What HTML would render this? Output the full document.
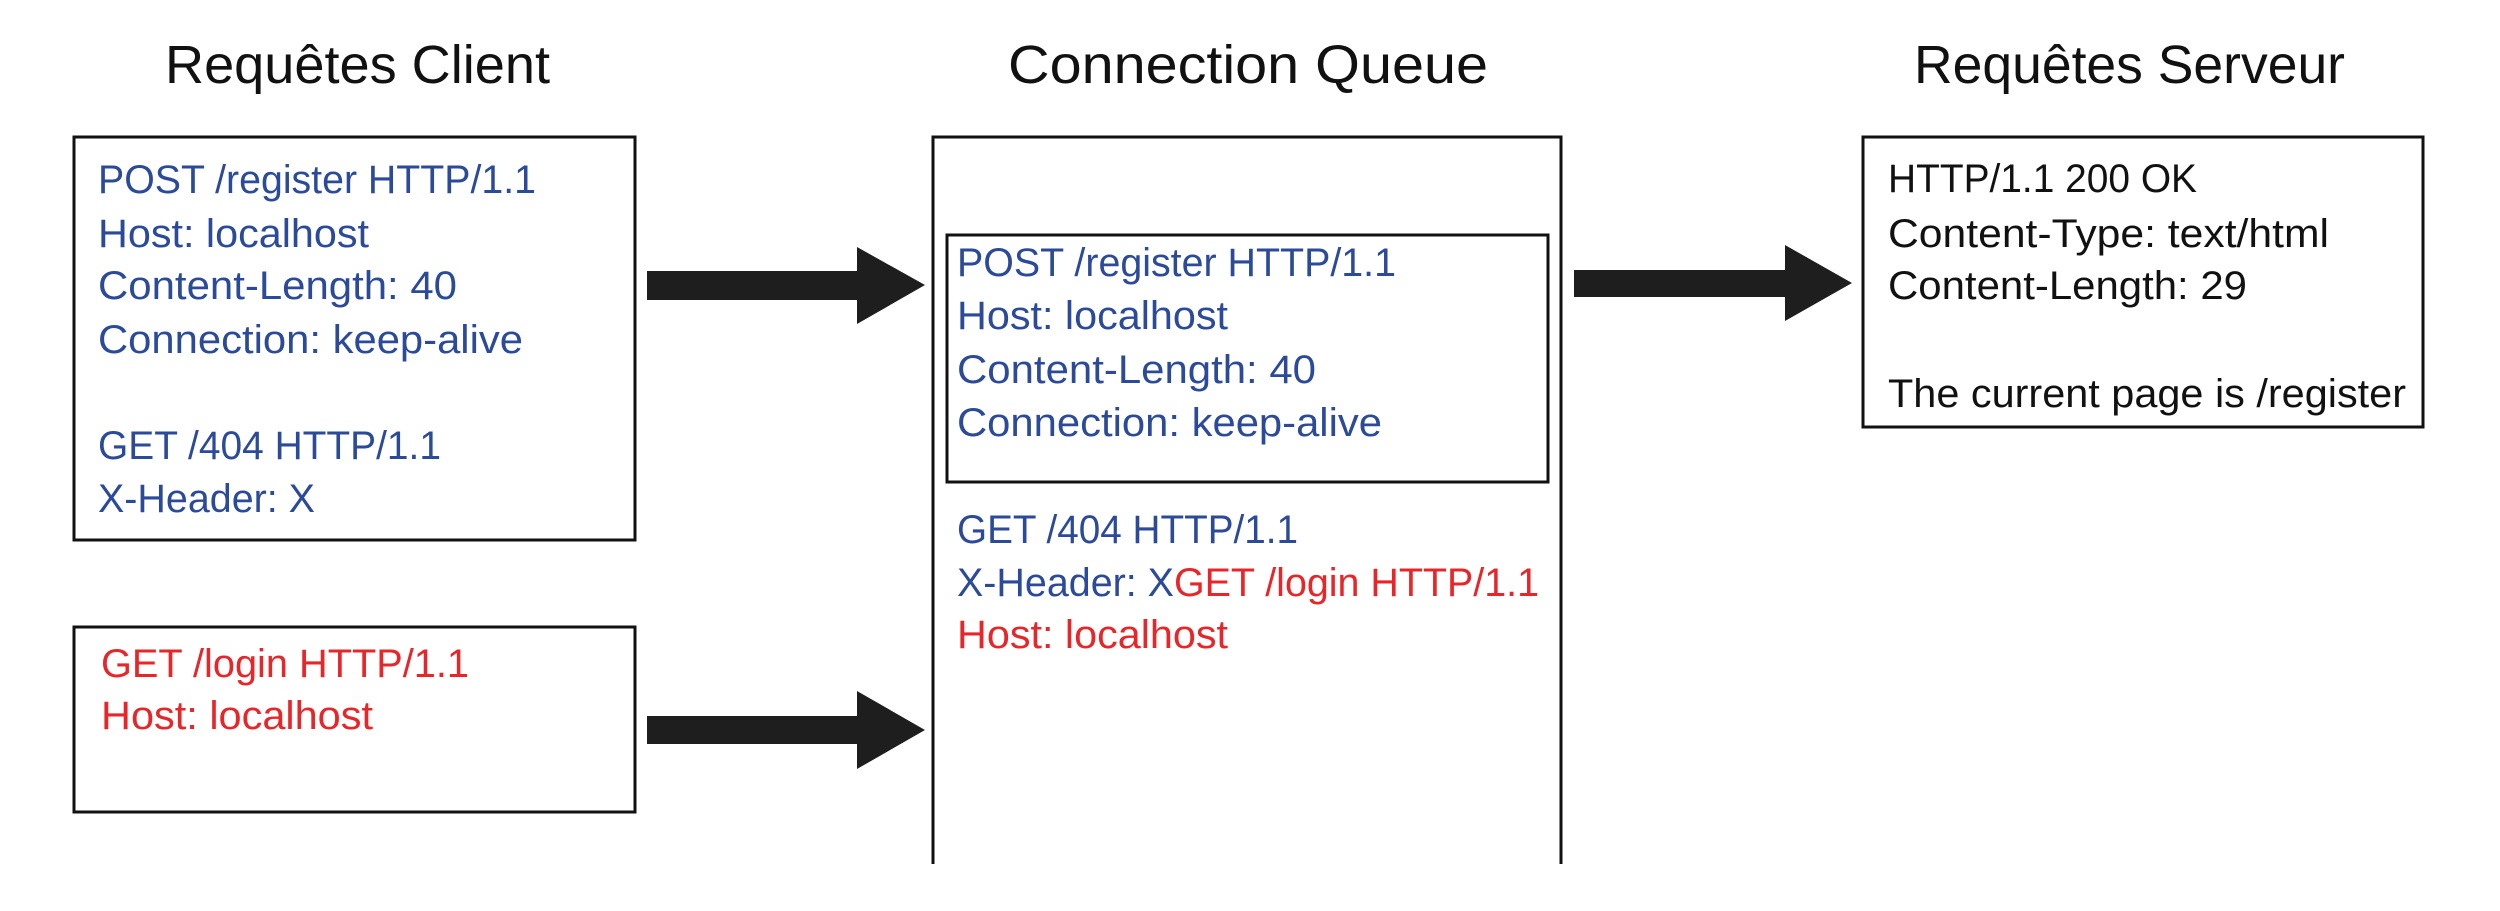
<!DOCTYPE html>
<html><head><meta charset="utf-8"><style>html,body{margin:0;padding:0;background:#fff}svg{display:block}</style></head>
<body>
<svg width="2500" height="911" viewBox="0 0 2500 911" xmlns="http://www.w3.org/2000/svg" font-family="Liberation Sans, sans-serif" lengthAdjust="spacingAndGlyphs">
<g font-size="54" fill="#111">
<text x="165" y="83" textLength="385" lengthAdjust="spacingAndGlyphs">Requêtes Client</text>
<text x="1008" y="83" textLength="480" lengthAdjust="spacingAndGlyphs">Connection  Queue</text>
<text x="1914" y="83" textLength="431" lengthAdjust="spacingAndGlyphs">Requêtes Serveur</text>
</g>
<g fill="none" stroke="#111" stroke-width="3">
<rect x="74" y="137" width="561" height="403"/>
<rect x="74" y="627" width="561" height="185"/>
<path d="M933 864 V137 H1561 V864"/>
<rect x="947" y="235" width="601" height="247"/>
<rect x="1863" y="137" width="560" height="290"/>
</g>
<g fill="#1e1e1e">
<polygon points="647,271 857,271 857,247 925,285 857,324 857,300 647,300"/>
<polygon points="647,716 857,716 857,691 925,730 857,769 857,744 647,744"/>
<polygon points="1574,270 1785,270 1785,245 1852,283 1785,321 1785,297 1574,297"/>
</g>
<g font-size="40" fill="#2b4a9a">
<text x="98" y="193" textLength="438" lengthAdjust="spacingAndGlyphs">POST /register HTTP/1.1</text>
<text x="98" y="247" textLength="271" lengthAdjust="spacingAndGlyphs">Host: localhost</text>
<text x="98" y="299" textLength="359" lengthAdjust="spacingAndGlyphs">Content-Length: 40</text>
<text x="98" y="353" textLength="425" lengthAdjust="spacingAndGlyphs">Connection: keep-alive</text>
<text x="98" y="459" textLength="343" lengthAdjust="spacingAndGlyphs">GET /404 HTTP/1.1</text>
<text x="98" y="512" textLength="217" lengthAdjust="spacingAndGlyphs">X-Header: X</text>
<text x="957" y="276" textLength="439" lengthAdjust="spacingAndGlyphs">POST /register HTTP/1.1</text>
<text x="957" y="329" textLength="271" lengthAdjust="spacingAndGlyphs">Host: localhost</text>
<text x="957" y="383" textLength="359" lengthAdjust="spacingAndGlyphs">Content-Length: 40</text>
<text x="957" y="436" textLength="425" lengthAdjust="spacingAndGlyphs">Connection: keep-alive</text>
<text x="957" y="543" textLength="341" lengthAdjust="spacingAndGlyphs">GET /404 HTTP/1.1</text>
<text x="957" y="596" textLength="217" lengthAdjust="spacingAndGlyphs">X-Header: X</text>
</g>
<g font-size="40" fill="#e8262a">
<text x="1174" y="596" textLength="365" lengthAdjust="spacingAndGlyphs">GET /login HTTP/1.1</text>
<text x="957" y="648" textLength="271" lengthAdjust="spacingAndGlyphs">Host: localhost</text>
<text x="101" y="677" textLength="368" lengthAdjust="spacingAndGlyphs">GET /login HTTP/1.1</text>
<text x="101" y="729" textLength="272" lengthAdjust="spacingAndGlyphs">Host: localhost</text>
</g>
<g font-size="40" fill="#111">
<text x="1888" y="192" textLength="309" lengthAdjust="spacingAndGlyphs">HTTP/1.1 200 OK</text>
<text x="1888" y="247" textLength="441" lengthAdjust="spacingAndGlyphs">Content-Type: text/html</text>
<text x="1888" y="299" textLength="359" lengthAdjust="spacingAndGlyphs">Content-Length: 29</text>
<text x="1888" y="407" textLength="518" lengthAdjust="spacingAndGlyphs">The current page is /register</text>
</g>
</svg>
</body></html>
